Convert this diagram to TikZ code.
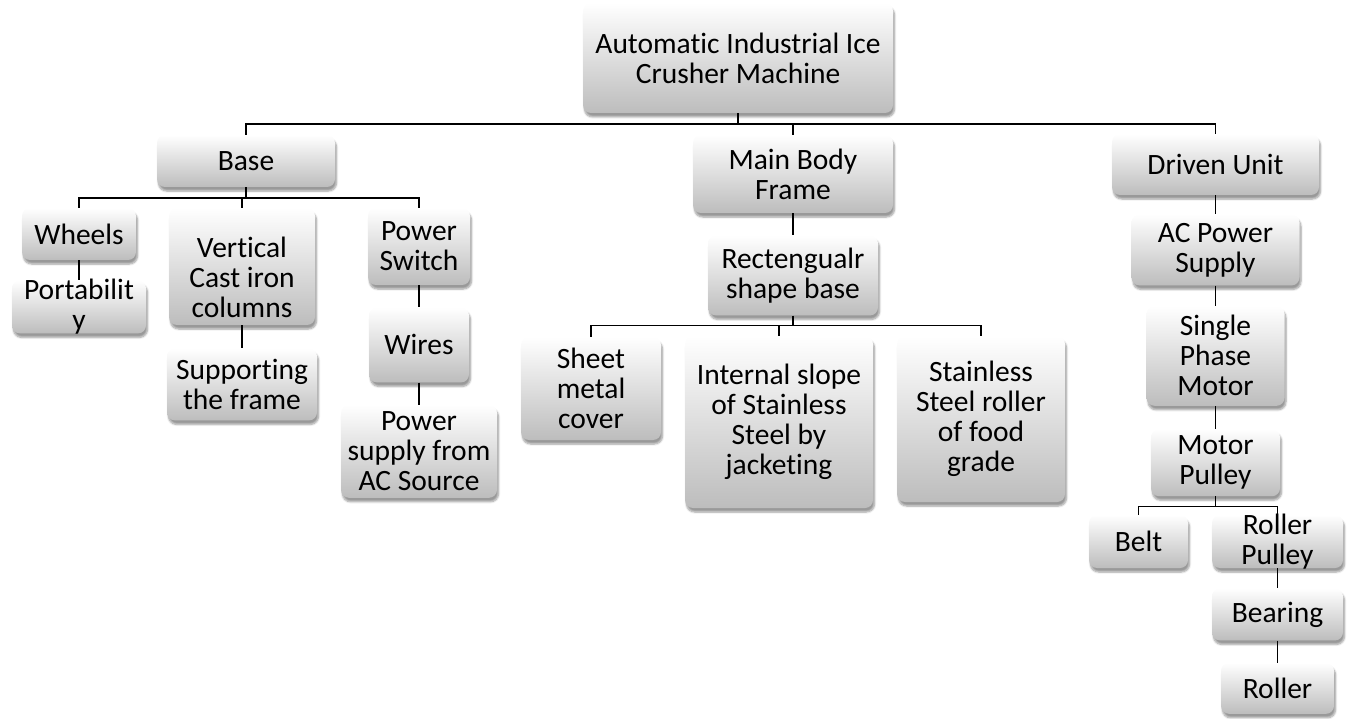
\documentclass[tikz,border=0pt]{standalone}
\usepackage{fontspec}
\setmainfont{Carlito}[Ligatures=CommonOff]
\usetikzlibrary{positioning,shadows.blur}

\tikzset{
	every node/.style={font=\fontsize{29.5}{30}\selectfont},
	blk/.style={rounded corners=8pt, top color=white, bottom color=black!26, inner sep=0pt, align=center,
		blur shadow={shadow xshift=1.5pt, shadow yshift=-4pt, shadow blur steps=6, shadow opacity=40}},
	lbl/.style={align=center},
	wire/.style={line width=1.7pt}
}

\begin{document}
\begin{tikzpicture}[x=1pt,y=-1pt]
	\useasboundingbox (0,0) rectangle (1347,719);
	%% top
	\node[blk, minimum width=310, minimum height=110] (r) at (738,58) {Automatic Industrial Ice\\Crusher Machine};
	\node[blk, minimum width=178, minimum height=52] (b) at (246,161) {Base};
	\node[blk, minimum width=200, minimum height=78] (m) at (793,174) {Main Body\\Frame};
	\node[blk, minimum width=207, minimum height=61] (d) at (1215.5,164.5) {Driven Unit};
	% base branch
	\node[blk, minimum width=114, minimum height=52] (b1) at (79,234) {Wheels};
	\node[blk, minimum width=134, minimum height=53, below=20pt of b1,
		label={[lbl]center:Portabilit\\y}] (b2) {};
	\node[blk, minimum width=146, minimum height=117,
		label={[lbl,yshift=-11pt]center:Vertical\\Cast iron\\columns}] (b3) at (242,266.5) {};
	\node[blk, minimum width=150, minimum height=72, below=23pt of b3] (b4) {Supporting\\the frame};
	\node[blk, minimum width=102, minimum height=77] (b5) at (419,246.5) {Power\\Switch};
	\node[blk, minimum width=100, minimum height=75, below=22pt of b5] (b6) {Wires};
	\node[blk, minimum width=156, minimum height=93, below=22pt of b6] (b7) {Power\\supply from\\AC Source};
	% main body branch
	\node[blk, minimum width=170, minimum height=80, below=22pt of m] (m1) {Rectengualr\\shape base};
	\node[blk, minimum width=140, minimum height=103] (m2) at (591,388.5) {Sheet\\metal\\cover};
	\node[blk, minimum width=188, minimum height=172] (m3) at (779,422) {Internal slope\\of Stainless\\Steel by\\jacketing};
	\node[blk, minimum width=168, minimum height=166] (m4) at (981,419) {Stainless\\Steel roller\\of food\\grade};
	% driven unit branch
	\node[blk, minimum width=168, minimum height=71, below=19pt of d] (d1) {AC Power\\Supply};
	\node[blk, minimum width=138, minimum height=100, below=20pt of d1] (d2) {Single\\Phase\\Motor};
	\node[blk, minimum width=129, minimum height=67, below=23pt of d2] (d3) {Motor\\Pulley};
	\node[blk, minimum width=99, minimum height=53] (d4) at (1138.5,541.5) {Belt};
	\node[blk, minimum width=131, minimum height=53,
		label={[lbl]center:Roller\\Pulley}] (d5) at (1277.5,541.5) {};
	\node[blk, minimum width=131, minimum height=52, below=20pt of d5] (d6) {Bearing};
	\node[blk, minimum width=113, minimum height=51, below=22pt of d6] (d7) {Roller};

	% 连线
	\draw[wire] (r.south) -- ++(0,11) -| (b.north);
	\draw[wire] (r.south) ++(0,11) -| (d.north);
	\draw[wire] (m.north) -- ++(0,-11);
	\draw[wire] (b.south) -- ++(0,11) -| (b1.north);
	\draw[wire] (b.south) ++(0,11) -| (b5.north);
	\draw[wire] (b3.north) -- ++(0,-10);
	\draw[wire] (b1.south) -- (b2.north);
	\draw[wire] (b3.south) -- (b4.north);
	\draw[wire] (b5.south) -- (b6.north);
	\draw[wire] (b6.south) -- (b7.north);
	\draw[wire] (m.south) -- (m1.north);
	\draw[wire] (m1.south) -- ++(0,10) -| (m2.north);
	\draw[wire] (m1.south) ++(0,10) -| (m4.north);
	\draw[wire] (m3.north) -- ++(0,-11);
	\draw[wire] (d.south) -- (d1.north);
	\draw[wire] (d1.south) -- (d2.north);
	\draw[wire] (d2.south) -- (d3.north);
	\draw[wire] (d3.south) -- ++(0,10) -| (d4.north);
	\draw[wire] (d3.south) ++(0,10) -| (d5.north);
	\draw[wire] (d5.south) -- (d6.north);
	\draw[wire] (d6.south) -- (d7.north);
\end{tikzpicture}
\end{document}
